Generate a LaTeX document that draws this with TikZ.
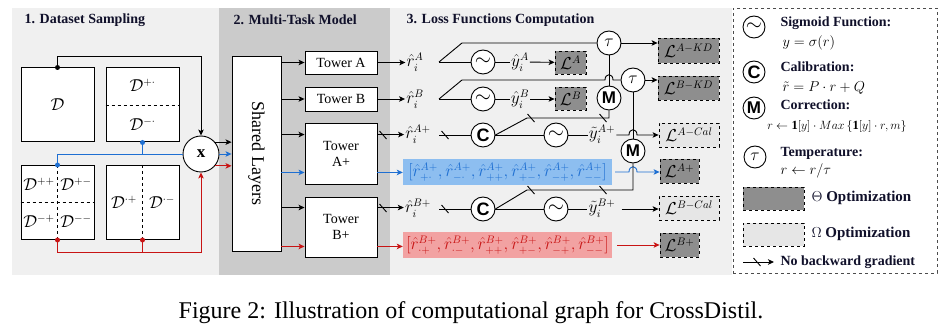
\documentclass[tikz,border=0pt]{standalone}
\usepackage{fontspec}
\setmainfont{Liberation Serif}
\newfontfamily\opfont{Liberation Sans}
\usetikzlibrary{arrows.meta,positioning,calc}
\definecolor{PanelLight}{HTML}{F0F0F0}
\definecolor{PanelDark}{HTML}{CBCBCB}
\definecolor{LossDark}{HTML}{8E8E8E}
\definecolor{LossLight}{HTML}{E6E6E6}
\definecolor{PosBlue}{HTML}{1E6FD2}
\definecolor{PosBlueFill}{HTML}{8DBEF0}
\definecolor{NegRed}{HTML}{C81414}
\definecolor{NegRedFill}{HTML}{F2A2A2}
\definecolor{TitleInk}{HTML}{10102A}

\tikzset{
  link/.style={line width=0.9pt},
  arr/.style={link,-{Stealth[length=6pt,width=5.5pt,inset=1.5pt]}},
  dot/.style={circle,fill,inner sep=0pt,minimum size=5pt},
  databox/.style={draw,line width=1pt,fill=white,minimum width=73pt,minimum height=74pt},
  tower/.style={draw,line width=0.9pt,fill=white,minimum width=72pt,align=center},
  opnode/.style={circle,draw,line width=0.9pt,fill=white,minimum size=24pt,inner sep=0pt},
  lossbox/.style={draw,dashed,line width=0.8pt,minimum height=24pt,inner sep=1pt,font=\fontsize{16}{18}\selectfont},
  secttitle/.style={anchor=west,text=TitleInk,font=\bfseries\fontsize{14}{16}\selectfont},
  legtitle/.style={anchor=west,text=TitleInk,font=\bfseries\fontsize{14}{16}\selectfont},
  lbl/.style={inner sep=1pt,font=\fontsize{16}{18}\selectfont},
}
\newcommand\sigsym{{\fontsize{20}{20}\selectfont$\sim$}}
\newcommand\tausym{{\fontsize{18}{18}\selectfont$\tau$}}
\newcommand\calsym{{\opfont\bfseries\fontsize{18}{18}\selectfont C}}
\newcommand\corsym{{\opfont\bfseries\fontsize{17}{17}\selectfont M}}
\newcommand\nocut[1]{\draw[link] ($(#1)+(-3.5,-4)$) -- ($(#1)+(3.5,4)$);}

\begin{document}
\begin{tikzpicture}[x=1pt,y=-1pt,font=\fontsize{14}{16}\selectfont]
  \useasboundingbox (0,0) rectangle (943,331);
  % Panels
  \fill[PanelLight] (12,8) rectangle (219,275);
  \fill[PanelDark] (219,8) rectangle (390,275);
  \fill[PanelLight] (390,8) rectangle (732,275);
  \node[secttitle] (t1) at (21,20) {1. Dataset Sampling};
  \node[secttitle] (t2) at (230,20) {2. Multi-Task Model};
  \node[secttitle] (t3) at (403,20) {3. Loss Functions Computation};

  % 1. Dataset sampling
  \node[databox,font=\fontsize{16}{18}\selectfont] (dAll) at (57.5,105) {$\mathcal{D}$};
  \node[databox] (dRow) at (142.5,105) {};
  \node[databox] (dQuad) at (57.5,202.5) {};
  \node[databox] (dCol) at (142.5,202.5) {};
  \draw[link,dashed] (dRow.west) -- (dRow.east);
  \draw[link,dashed] (dQuad.north) -- (dQuad.south);
  \draw[link,dashed] (dQuad.west) -- (dQuad.east);
  \draw[link,dashed] (dCol.north) -- (dCol.south);
  \node[lbl] (dPp) at (142.5,85) {$\mathcal{D}^{+\cdot}$};
  \node[lbl] (dPm) at (142.5,124) {$\mathcal{D}^{-\cdot}$};
  \node[lbl] (dQpp) at (39,184) {$\mathcal{D}^{++}$};
  \node[lbl] (dQpm) at (76,184) {$\mathcal{D}^{+-}$};
  \node[lbl] (dQmp) at (39,221) {$\mathcal{D}^{-+}$};
  \node[lbl] (dQmm) at (76,221) {$\mathcal{D}^{--}$};
  \node[lbl] (dCp) at (124,202) {$\mathcal{D}^{\cdot+}$};
  \node[lbl] (dCm) at (162,202) {$\mathcal{D}^{\cdot-}$};
  \node[opnode,minimum size=36pt,font=\bfseries\fontsize{17}{17}\selectfont] (mulx) at (201,154) {x};
  % sampling connectors
  \draw[arr] (dAll.north) -- ++(0,-11) -| (mulx.north);
  \node[dot] (k1) at (dAll.north) {};
  \draw[link,PosBlue] (dRow.south) -- (dRow.south |- mulx.west);
  \draw[link,PosBlue] (dQuad.north) -- (dQuad.north |- mulx.west) -- (mulx.west);
  \node[dot,PosBlue] (k2) at (dRow.south) {};
  \node[dot,PosBlue] (k3) at (dQuad.north) {};
  \draw[arr,NegRed] (dQuad.south) -- ++(0,12) -| (mulx.south);
  \draw[link,NegRed] (dCol.south) -- ++(0,12);
  \node[dot,NegRed] (k4) at (dQuad.south) {};
  \node[dot,NegRed] (k5) at (dCol.south) {};

  % 2. Multi-task model
  \node[draw,line width=0.9pt,fill=white,minimum width=49pt,minimum height=195pt] (shared) at (256.5,153.5) {};
  \node[rotate=-90,font=\fontsize{18}{18}\selectfont] (sharedtxt) at (shared.center) {Shared Layers};
  \draw[arr] (mulx.40) -- (mulx.40 -| shared.west);
  \draw[arr,PosBlue] (mulx.east) -- (shared.west |- mulx.east);
  \draw[arr,NegRed] (mulx.-40) -- (mulx.-40 -| shared.west);
  \node[tower,minimum height=23pt] (towA) at (341,62.5) {Tower A};
  \node[tower,minimum height=24pt] (towB) at (341,99) {Tower B};
  \node[tower,minimum height=61pt] (towAp) at (341,153.5) {Tower\\A+};
  \node[tower,minimum height=60pt] (towBp) at (341,227) {Tower\\B+};
  \coordinate (inAp) at ([yshift=-12pt]towAp.north west);
  \coordinate (inAb) at ([yshift=12pt]towAp.south west);
  \coordinate (inBp) at ([yshift=-11pt]towBp.north west);
  \coordinate (inBr) at ([yshift=11pt]towBp.south west);
  \draw[arr] (shared.east |- towA) -- (towA);
  \draw[arr] (shared.east |- towB) -- (towB);
  \draw[arr] (shared.east |- inAp) -- (inAp);
  \draw[arr,PosBlue] (shared.east |- inAb) -- (inAb);
  \draw[arr] (shared.east |- inBp) -- (inBp);
  \draw[arr,NegRed] (shared.east |- inBr) -- (inBr);
  % tower outputs
  \node[lbl] (rA) at (415,62) {$\hat{r}_i^A$};
  \node[lbl] (rB) at (415,99) {$\hat{r}_i^B$};
  \node[lbl] (rAp) at (418,134) {$\hat{r}_i^{A+}$};
  \node[lbl] (rBp) at (418,208) {$\hat{r}_i^{B+}$};
  \node[lbl,fill=PosBlueFill,text=PosBlue,minimum width=209pt,minimum height=26pt] (listA) at (507.5,172)
    {$[\hat{r}^{A+}_{+\cdot},\hat{r}^{A+}_{-\cdot},\hat{r}^{A+}_{++},\hat{r}^{A+}_{+-},\hat{r}^{A+}_{-+},\hat{r}^{A+}_{--}]$};
  \node[lbl,fill=NegRedFill,text=NegRed,minimum width=209pt,minimum height=26pt] (listB) at (507.5,245)
    {$[\hat{r}^{B+}_{\cdot+},\hat{r}^{B+}_{\cdot-},\hat{r}^{B+}_{++},\hat{r}^{B+}_{+-},\hat{r}^{B+}_{-+},\hat{r}^{B+}_{--}]$};
  \draw[arr] (towA.east) -- (towA.east -| rA.west);
  \draw[arr] (towB.east) -- (towB.east -| rB.west);
  \draw[arr] (inAp -| towAp.east) -- (inAp -| rAp.west);
  \draw[arr,PosBlue] (inAb -| towAp.east) -- (inAb -| listA.west);
  \draw[arr] (inBp -| towBp.east) -- (inBp -| rBp.west);
  \draw[arr,NegRed] (inBr -| towBp.east) -- (inBr -| listB.west);
  \nocut{383,135}
  \nocut{383,208}

  % 3. Loss functions
  \node[opnode] (sigA) at (483,62) {\sigsym};
  \node[opnode] (sigB) at (483,99) {\sigsym};
  \node[opnode] (calA) at (483,135) {\calsym};
  \node[opnode] (calB) at (483,209) {\calsym};
  \node[opnode] (sigAp) at (556,135) {\sigsym};
  \node[opnode] (sigBp) at (556,209) {\sigsym};
  \node[opnode] (tauA) at (609,43) {\tausym};
  \node[opnode] (tauB) at (633,80) {\tausym};
  \node[opnode] (corA) at (609,98) {\corsym};
  \node[opnode] (corB) at (633,151) {\corsym};
  \node[lbl] (yA) at (520,62) {$\hat{y}_i^A$};
  \node[lbl] (yB) at (520,99) {$\hat{y}_i^B$};
  \node[lbl] (yAp) at (602,134) {$\tilde{y}_i^{A+}$};
  \node[lbl] (yBp) at (602,208) {$\tilde{y}_i^{B+}$};
  \node[lossbox,fill=LossDark,minimum width=31pt,minimum height=23pt] (LA) at (570.5,62.5) {$\mathcal{L}^{A}$};
  \node[lossbox,fill=LossDark,minimum width=31pt,minimum height=23pt] (LB) at (570.5,99) {$\mathcal{L}^{B}$};
  \node[lossbox,fill=LossDark,minimum width=61pt,minimum height=25pt] (LAKD) at (688.5,51) {$\mathcal{L}^{A-KD}$};
  \node[lossbox,fill=LossDark,minimum width=61pt] (LBKD) at (688.5,88) {$\mathcal{L}^{B-KD}$};
  \node[lossbox,fill=LossLight,minimum width=60pt] (LACal) at (689,135) {$\mathcal{L}^{A-Cal}$};
  \node[lossbox,fill=LossDark,minimum width=39pt] (LAp) at (679.5,171) {$\mathcal{L}^{A+}$};
  \node[lossbox,fill=LossLight,minimum width=60pt] (LBCal) at (689,208) {$\mathcal{L}^{B-Cal}$};
  \node[lossbox,fill=LossDark,minimum width=39pt] (LBp) at (679.5,245) {$\mathcal{L}^{B+}$};
  \coordinate (sA) at (439,62);
  \coordinate (sB) at (439,99);
  \coordinate (sAp) at (439,135);
  \coordinate (sBp) at (439,209);
  % task A and B
  \draw[link] (sA) -- (sigA) (sigA) -- (yA);
  \draw[arr] (yA) -- (LA);
  \draw[link] (sA) -- (462,43) -- (tauA);
  \draw[arr] (tauA) -- (tauA -| LAKD.west);
  \draw[link] (sB) -- (sigB) (sigB) -- (yB);
  \draw[arr] (yB) -- (LB);
  \draw[link] (sB) -- (462,80) -- (605,80) .. controls (605,73) and (613,73) .. (613,80) -- (tauB);
  \draw[arr] (tauB) -- (tauB -| LBKD.west);
  \draw[link] (corA) -- (tauA);
  \draw[link] (corB) -- (tauB);
  % calibrated tasks
  \draw[link] (sAp) -- (calA) (calA) -- (sigAp) (sigAp) -- (yAp.west |- sAp);
  \draw[arr] (yAp.east |- sAp) -- (629,135) .. controls (629,128) and (637,128) .. (637,135) -- (LACal);
  \draw[link] (calA.east) -- (527,118) -- (corA |- 0,118) -- (corA);
  \draw[arr,PosBlue] ([xshift=3pt]listA.east) -- (629,172) .. controls (629,165) and (637,165) .. (637,172) -- (LAp.west |- listA);
  \draw[link] (sBp) -- (calB) (calB) -- (sigBp) (sigBp) -- (yBp.west |- sBp);
  \draw[arr] ([xshift=5pt]yBp.east |- sBp) -- (LBCal.west |- sBp);
  \draw[link] (calB.east) -- (527,190) -- (corB |- 0,190) -- (corB);
  \draw[arr,NegRed] ([xshift=5pt]listB.east) -- (LBp.west |- listB);
  \nocut{445,135}
  \nocut{445,209}
  \nocut{531,118}
  \nocut{603,118}
  \nocut{531,190}
  \nocut{603,190}

  % Legend
  \node[draw=black!70,dashed,line width=0.8pt,fill=white,minimum width=204pt,minimum height=265pt] (legend) at (835,140.5) {};
  \node[opnode,minimum size=22pt] (lgSig) at (754,27) {\sigsym};
  \node[legtitle] (lgSigT) at (777,23) {Sigmoid Function:};
  \node[anchor=west,font=\fontsize{15}{17}\selectfont] (lgSigF) at (779,43) {$y=\sigma(r)$};
  \node[opnode,minimum size=22pt] (lgCal) at (754,72) {\calsym};
  \node[legtitle] (lgCalT) at (777,67) {Calibration:};
  \node[anchor=west,font=\fontsize{15}{17}\selectfont] (lgCalF) at (779,88) {$\tilde{r}=P\cdot r+Q$};
  \node[opnode,minimum size=22pt] (lgCor) at (754,108) {\corsym};
  \node[legtitle] (lgCorT) at (777,105) {Correction:};
  \node[font=\fontsize{12.5}{14}\selectfont] (lgCorF) at (837,127) {$r\leftarrow\mathbf{1}[y]\cdot Max\left\{\mathbf{1}[y]\cdot r,m\right\}$};
  \node[opnode,minimum size=22pt] (lgTau) at (755,157) {\tausym};
  \node[legtitle] (lgTauT) at (777,153) {Temperature:};
  \node[anchor=west,font=\fontsize{15}{17}\selectfont] (lgTauF) at (777,171) {$r\leftarrow r/\tau$};
  \node[lossbox,fill=LossDark,minimum width=61pt,minimum height=23pt] (lgDark) at (773.5,198.5) {};
  \node[anchor=west,text=TitleInk,font=\fontsize{15}{17}\selectfont] (lgDarkT) at (808,198) {$\Theta$ \textbf{Optimization}};
  \node[lossbox,fill=LossLight,minimum width=61pt,minimum height=23pt] (lgLight) at (773.5,234.5) {};
  \node[anchor=west,text=TitleInk,font=\fontsize{15}{17}\selectfont] (lgLightT) at (808,234) {$\Omega$ \textbf{Optimization}};
  \coordinate (lgA) at (743,262);
  \coordinate (lgB) at (774,262);
  \draw[arr] (lgA) -- (lgB);
  \nocut{757,262}
  \node[legtitle] (lgArrT) at (777,262) {No backward gradient};

  % Caption
  \node[font=\fontsize{24}{28}\selectfont] (caption) at (471,313) {Figure 2: Illustration of computational graph for CrossDistil.};
\end{tikzpicture}
\end{document}
